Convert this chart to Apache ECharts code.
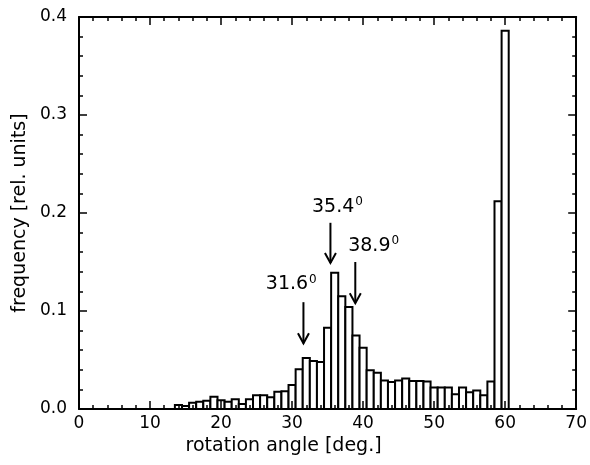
<!DOCTYPE html>
<html><head><meta charset="utf-8">
<script src="https://cdn.jsdelivr.net/npm/echarts@6/dist/echarts.min.js"></script>
<style>html,body{margin:0;padding:0;background:#fff}#c{width:590px;height:465px}</style>
</head><body><div id="c"></div>
<script>
// rotation angle bins (deg., bin centres) and frequency [rel. units]
const angles = [14,15,16,17,18,19,20,21,22,23,24,25,26,27,28,29,30,31,32,33,34,35,36,37,38,39,40,41,42,43,44,45,46,47,48,49,50,51,52,53,54,55,56,57,58,59,60];
const freqs  = [0.004,0.003,0.0065,0.0075,0.0085,0.0125,0.009,0.0075,0.010,0.005,0.010,0.014,0.014,0.012,0.0175,0.018,0.0245,0.0405,0.052,0.049,0.048,0.083,0.139,0.115,0.104,0.075,0.0625,0.0395,0.037,0.029,0.0275,0.029,0.031,0.0285,0.0285,0.028,0.022,0.022,0.022,0.015,0.022,0.017,0.019,0.014,0.028,0.212,0.386];
// annotations: peak labels, arrow x positions, arrow tail / tip heights, label anchor
const peakLabels = ['31.6','35.4','38.9'];
const arrowX     = [31.6, 35.4, 38.9];
const arrowTail  = [0.109, 0.190, 0.150];
const arrowTip   = [0.067, 0.149, 0.108];
const labelX     = [26.3, 32.8, 37.9];
const labelY     = [0.127, 0.206, 0.166];
const xTickValues = [0,10,20,30,40,50,60,70];
const yTickValues = [0.0,0.1,0.2,0.3,0.4];

const FONT = 'DejaVu Sans';
const chart = echarts.init(document.getElementById('c'), null, {renderer:'canvas'});

const axisCommon = {
  axisLine:{show:true, onZero:false, lineStyle:{color:'#000', width:2}},
  axisTick:{show:true, inside:true, length:8, lineStyle:{color:'#000', width:1.5}},
  minorTick:{show:true, splitNumber:5, length:4, lineStyle:{color:'#000', width:1.5}},
  splitLine:{show:false},
  z:10
};

const option = {
  animation:false,
  backgroundColor:'#fff',
  grid:{left:79, right:7, top:17, bottom:56, containLabel:false},
  xAxis:[
    Object.assign({}, axisCommon, {
      type:'value', position:'bottom', min:0, max:70, interval:10,
      axisLabel:{show:true, color:'#000', fontFamily:FONT, fontSize:17, margin:6,
        formatter:v => xTickValues.includes(v) ? String(v) : ''},
      name:'rotation angle [deg.]', nameLocation:'middle', nameGap:25,
      nameTextStyle:{color:'#000', fontFamily:FONT, fontSize:19, padding:[0,88,0,0]}
    }),
    Object.assign({}, axisCommon, {
      type:'value', position:'top', min:0, max:70, interval:10,
      axisLabel:{show:false}
    })
  ],
  yAxis:[
    Object.assign({}, axisCommon, {
      type:'value', position:'left', min:0, max:0.4, interval:0.1,
      axisLabel:{show:true, color:'#000', fontFamily:FONT, fontSize:17, margin:12,
        formatter:v => yTickValues.some(t => Math.abs(t-v)<1e-9) ? v.toFixed(1) : ''},
      name:'frequency [rel. units]', nameLocation:'middle', nameGap:44,
      nameTextStyle:{color:'#000', fontFamily:FONT, fontSize:19}
    }),
    Object.assign({}, axisCommon, {
      type:'value', position:'right', min:0, max:0.4, interval:0.1,
      axisLabel:{show:false}
    })
  ],
  series:[
    {
      type:'custom',
      xAxisIndex:0, yAxisIndex:0,
      data: angles.map((a,i)=>[a, freqs[i]]),
      renderItem:function(params, api){
        const x = api.value(0), y = api.value(1);
        const p0 = api.coord([x-0.5, y]);
        const p1 = api.coord([x+0.5, 0]);
        return {type:'rect', shape:{x:p0[0], y:p0[1], width:p1[0]-p0[0], height:p1[1]-p0[1]},
          style:{fill:'#fff', stroke:'#000', lineWidth:2}};
      },
      z:2
    },
    {
      type:'custom',
      xAxisIndex:0, yAxisIndex:0,
      data: arrowX.map((x,i)=>[x, arrowTail[i], arrowTip[i]]),
      renderItem:function(params, api){
        const x = api.value(0);
        const t = api.coord([x, api.value(1)]);
        const h = api.coord([x, api.value(2)]);
        const st = {stroke:'#000', lineWidth:2, fill:null};
        return {type:'group', children:[
          {type:'line', shape:{x1:t[0], y1:t[1], x2:h[0], y2:h[1]}, style:st},
          {type:'polyline', shape:{points:[[h[0]-5.5, h[1]-10],[h[0], h[1]],[h[0]+5.5, h[1]-10]]}, style:st}
        ]};
      },
      z:3
    },
    {
      type:'scatter',
      xAxisIndex:0, yAxisIndex:0,
      symbolSize:0,
      itemStyle:{opacity:1},
      emphasis:{disabled:true},
      data: labelX.map((x,i)=>[x, labelY[i], peakLabels[i]]),
      label:{show:true, position:'right', distance:0, color:'#000', opacity:1,
        formatter:p => '{m|'+p.value[2]+'}{s|0}',
        rich:{
          m:{fontFamily:FONT, fontSize:19, color:'#000', lineHeight:22},
          s:{fontFamily:FONT, fontSize:12, color:'#000', verticalAlign:'top', lineHeight:12, padding:[0,0,0,1]}
        }},
      z:4
    }
  ]
};
chart.setOption(option);
</script></body></html>
